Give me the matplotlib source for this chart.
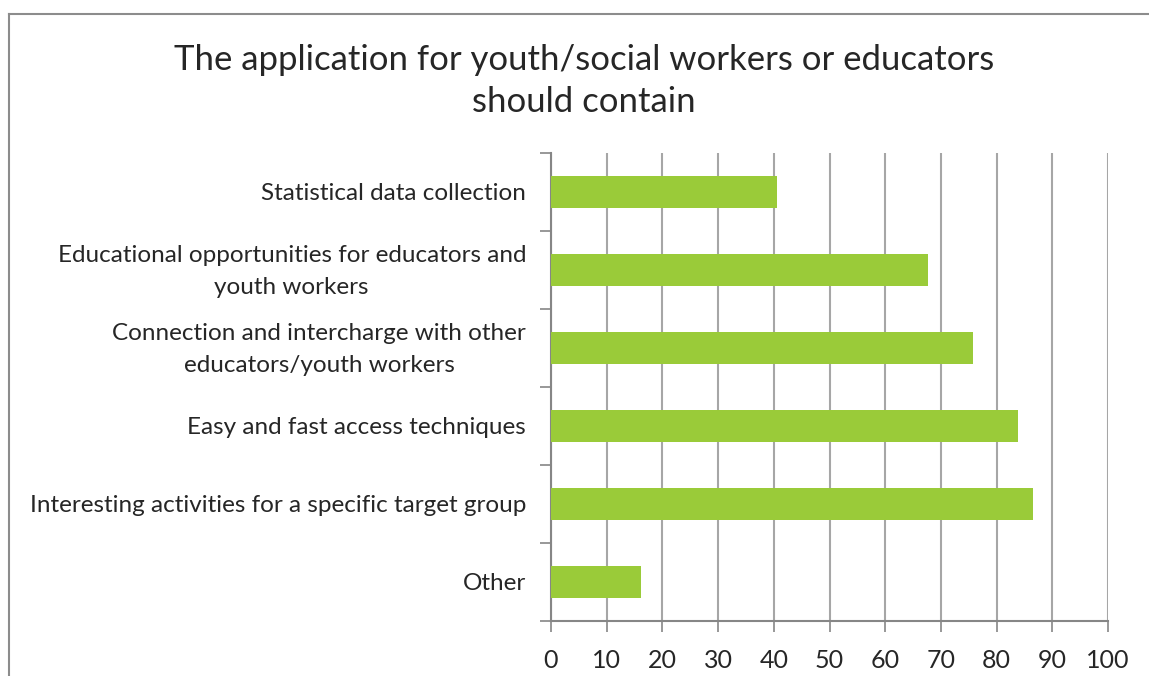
import matplotlib
matplotlib.use("Agg")
import matplotlib.pyplot as plt
from matplotlib.lines import Line2D
from matplotlib.transforms import ScaledTranslation
import numpy as np

plt.rcParams['font.family'] = ['Lato', 'DejaVu Sans']

# Survey answers, top to bottom as shown
categories = [
    "Statistical data collection",
    "Educational opportunities for educators and\nyouth workers",
    "Connection and intercharge with other\neducators/youth workers",
    "Easy and fast access techniques",
    "Interesting activities for a specific target group",
    "Other",
]
values = [40.5, 67.6, 75.7, 83.8, 86.5, 16.2]
x_ticks = [0, 10, 20, 30, 40, 50, 60, 70, 80, 90, 100]
title = "The application for youth/social workers or educators\nshould contain"

BAR = "#9ACB39"
GRID = "#A6A6A6"
AXIS = "#868686"
TEXT = "#262626"

W, H = 1149, 676
fig = plt.figure(figsize=(W / 100, H / 100), dpi=100)
fig.patch.set_facecolor("white")

# outer chart-area frame (top and left edges)
fx0, fy0 = 8.5 / W, 1 - 14 / H
fig.add_artist(Line2D([fx0, 1.0], [fy0, fy0], transform=fig.transFigure,
                      color="#8C8C8C", lw=1.5))
fig.add_artist(Line2D([fx0, fx0], [0.0, fy0], transform=fig.transFigure,
                      color="#8C8C8C", lw=1.5))

left, right = 551 / W, 1108 / W
top, bottom = 1 - 153 / H, 1 - 621 / H
ax = fig.add_axes([left, bottom, right - left, top - bottom])

n = len(categories)
pos = np.arange(n)
ax.barh(pos, values, height=0.4, color=BAR, zorder=3)
ax.set_ylim(n - 0.5, -0.5)
ax.set_xlim(0, 100)

# y axis: ticks at category boundaries, labels at centres
ax.set_yticks(np.arange(n + 1) - 0.5)
ax.set_yticklabels([""] * (n + 1))
ax.tick_params(axis="y", which="major", length=8, width=1.2, color=AXIS)
ax.set_yticks(pos, minor=True)
ax.set_yticklabels(categories, minor=True, fontsize=17.5, color=TEXT,
                   multialignment="center", linespacing=1.62)
ax.tick_params(axis="y", which="minor", length=0, pad=18)

# two-line labels sit centred on their bar
lift = ScaledTranslation(0, 6 / 100, fig.dpi_scale_trans)
for lab in ax.get_yticklabels(minor=True):
    if "\n" in lab.get_text():
        lab.set_transform(lab.get_transform() + lift)

ax.set_xticks(x_ticks)
ax.set_xticklabels([str(t) for t in x_ticks], fontsize=18, color=TEXT)
ax.tick_params(axis="x", length=8, width=1.2, color=AXIS, pad=12)

ax.grid(axis="x", color=GRID, lw=1.5, zorder=0)
ax.set_axisbelow(True)
for s in ("top", "right"):
    ax.spines[s].set_visible(False)
for s in ("left", "bottom"):
    ax.spines[s].set_color(AXIS)
    ax.spines[s].set_linewidth(1.5)

fig.text(584 / W, 1 - 81 / H, title, ha="center", va="center",
         fontsize=25, color=TEXT, linespacing=1.38)

fig.savefig("out.png", dpi=100, facecolor="white")
